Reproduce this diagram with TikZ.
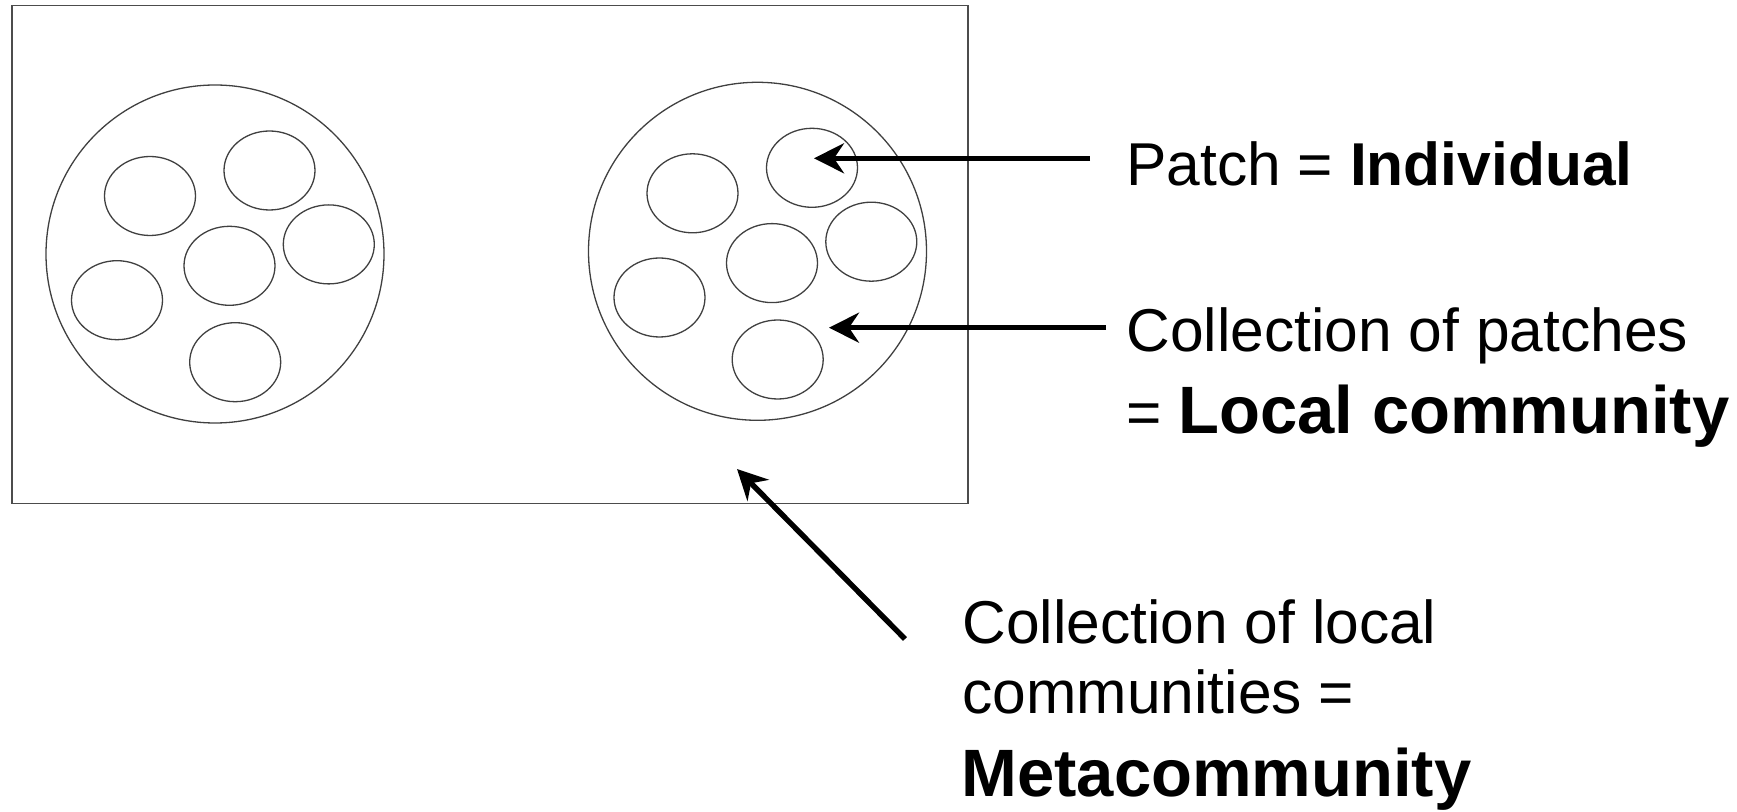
\documentclass[tikz,border=0pt]{standalone}
\usepackage{fontspec}
\setmainfont{Liberation Sans}
\usetikzlibrary{arrows.meta, shapes.geometric}
\newcommand{\lblsize}{\fontsize{30.25}{36}\selectfont}
\newcommand{\bigbold}{\fontsize{33.5}{40}\selectfont\bfseries}

\begin{document}
\begin{tikzpicture}[x=0.5pt, y=-0.5pt,
  community/.style={circle, draw=black!75, line width=0.65pt, minimum size=169pt, inner sep=0pt},
  patch/.style={ellipse, draw=black!75, line width=0.65pt, minimum width=45.5pt, minimum height=39.5pt, inner sep=0pt},
  lbl/.style={anchor=base west, inner sep=0pt, font=\lblsize},
  pointer/.style={-{Stealth[length=15pt, width=15pt, inset=5pt]}, line width=2.7pt}]
  \useasboundingbox (0,0) rectangle (1737,812);
  % metacommunity frame
  \node[draw=black!70, line width=0.75pt, minimum width=478pt, minimum height=249pt, inner sep=0pt, anchor=north west] (meta) at (11,5) {};
  % local communities
  \node[community] (comL) at (215,254) {};
  \node[community] (comR) at (757.5,251.3) {};
  % patches inside each community
  \foreach \c in {L,R}
    \foreach \dx/\dy/\n in {-65/-58/a, 54.5/-83.5/b, 14.5/11.8/c, 113.8/-9.6/d, -98/46.2/e, 20.2/108.2/f}
      \node[patch] (\c\n) at ([shift={(\dx,\dy)}]com\c.center) {};
  % labels
  \node[lbl] (patchlbl) at (1126,185.7) {Patch = \textbf{Individual}};
  \node[lbl] (loclbl1) at (1126,351.7) {Collection of patches};
  \node[lbl] (loclbl2) at (1126,433.3) {= {\bigbold Local community}};
  \node[lbl] (metalbl1) at (962,643.3) {Collection of local};
  \node[lbl] (metalbl2) at (962,713.3) {communities =};
  \node[lbl] (metalbl3) at (961,796.7) {\bigbold Metacommunity};
  % arrows
  \coordinate (tailP) at (1090,158.3);
  \coordinate (tipP) at (814,158.3);
  \coordinate (tailL) at (1106,327.7);
  \coordinate (tipL) at (829,327.7);
  \coordinate (tailM) at (905,639);
  \coordinate (tipM) at (737,469);
  \draw[pointer] (tailP) -- (tipP);
  \draw[pointer] (tailL) -- (tipL);
  \draw[pointer] (tailM) -- (tipM);
\end{tikzpicture}
\end{document}
